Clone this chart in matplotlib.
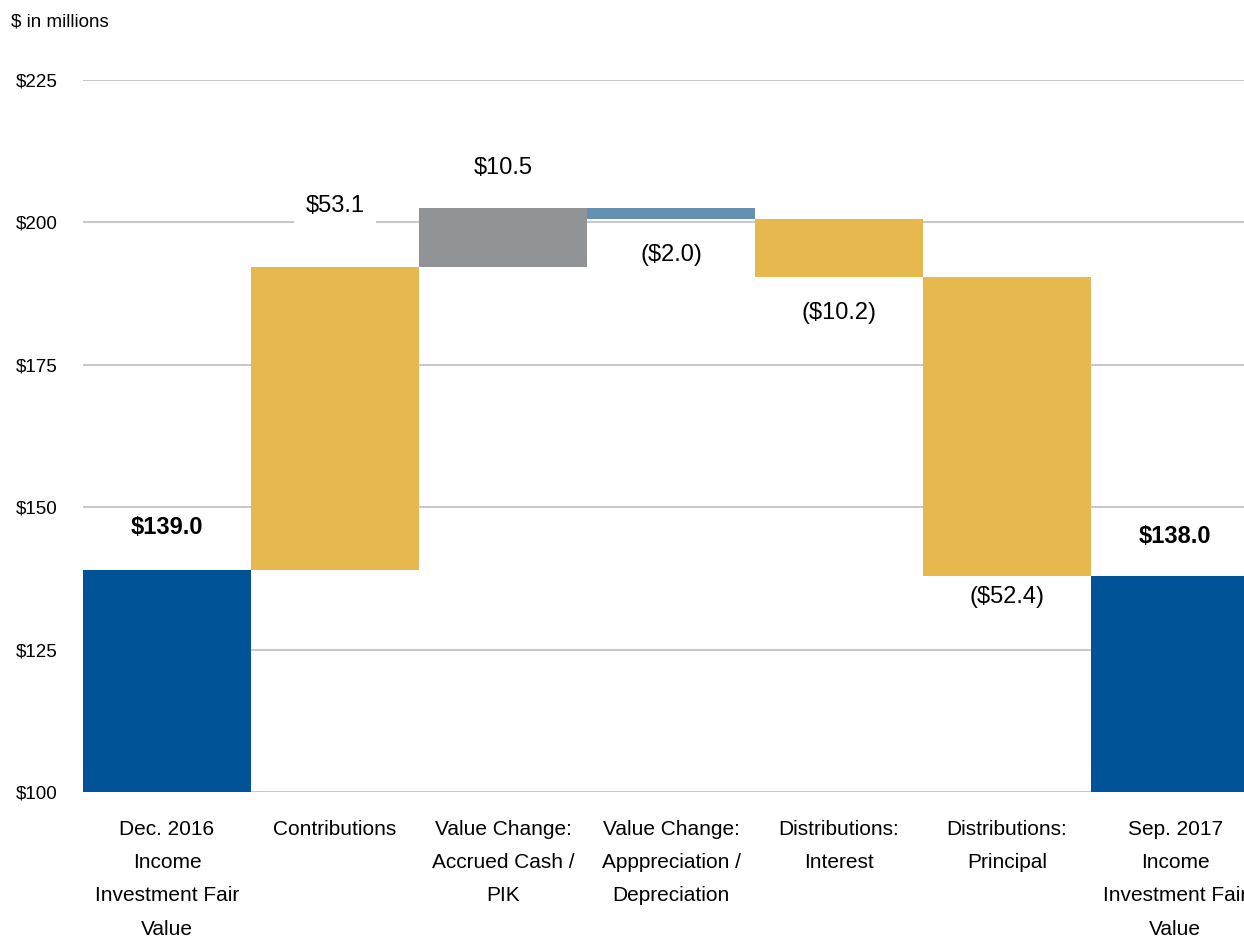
import matplotlib
matplotlib.use("Agg")
import matplotlib.pyplot as plt
from matplotlib import font_manager

# categories and waterfall values ($ millions)
categories = ["Dec. 2016\nIncome\nInvestment Fair\nValue",
              "Contributions",
              "Value Change:\nAccrued Cash /\nPIK",
              "Value Change:\nApppreciation /\nDepreciation",
              "Distributions:\nInterest",
              "Distributions:\nPrincipal",
              "Sep. 2017\nIncome\nInvestment Fair\nValue"]
start_value = 139.0
changes = [53.1, 10.5, -2.0, -10.2, -52.4]
end_value = 138.0
labels = ["$139.0", "$53.1", "$10.5", "($2.0)", "($10.2)", "($52.4)", "$138.0"]

COLORS = ["#005396", "#E6B84E", "#909497", "#6490B4", "#E6B84E", "#E6B84E", "#005396"]

names = {f.name for f in font_manager.fontManager.ttflist}
fam = "Liberation Sans Narrow" if "Liberation Sans Narrow" in names else "Liberation Sans"
plt.rcParams['font.family'] = [fam, 'DejaVu Sans']

# build bottoms / heights
bottoms, heights = [100], [start_value - 100]
level = start_value
for c in changes:
    lo = level if c >= 0 else level + c
    bottoms.append(lo)
    heights.append(abs(c))
    level += c
bottoms.append(100)
heights.append(end_value - 100)

fig = plt.figure(figsize=(12.44, 9.43), dpi=100)
ax = fig.add_axes([83 / 1244, 1 - 792 / 943, 1 - 83 / 1244, (792 - 80) / 943])

x = list(range(len(categories)))
ax.bar(x, heights, bottom=bottoms, width=1.0, color=COLORS, zorder=3)

ax.set_ylim(100, 225)
ax.set_xlim(-0.5, 6.41)
ax.set_yticks([100, 125, 150, 175, 200, 225])
ax.set_yticklabels(["$100", "$125", "$150", "$175", "$200", "$225"], fontsize=13.5)
ax.yaxis.grid(True, color="#C8C8C8", linewidth=1.5, zorder=0)
ax.set_xticks(x)
ax.set_xticklabels(categories, fontsize=15, linespacing=1.95, va="top")
ax.tick_params(axis="both", length=0)
ax.tick_params(axis="y", pad=18)
ax.tick_params(axis="x", pad=20)
for s in ax.spines.values():
    s.set_visible(False)

# value labels: (pixel offset from bar top / bottom)
offsets = [42, 61, 40, -36, -36, -21, 39]
px = 72 / 100
for i, (lab, off) in enumerate(zip(labels, offsets)):
    top = bottoms[i] + heights[i]
    anchor = top if off > 0 else bottoms[i]
    kw = {}
    if i == 1:
        kw["bbox"] = dict(facecolor="white", edgecolor="none", pad=8)
    ax.annotate(lab, (i, anchor), xytext=(0, off * px), textcoords="offset points",
                ha="center", va="center", fontsize=17,
                fontweight="bold" if i in (0, 6) else "normal", zorder=5, **kw)

fig.text(11 / 1244, 1 - 22 / 943, "$ in millions", fontsize=13.5, va="center", ha="left")

fig.savefig("out.png", dpi=100)
